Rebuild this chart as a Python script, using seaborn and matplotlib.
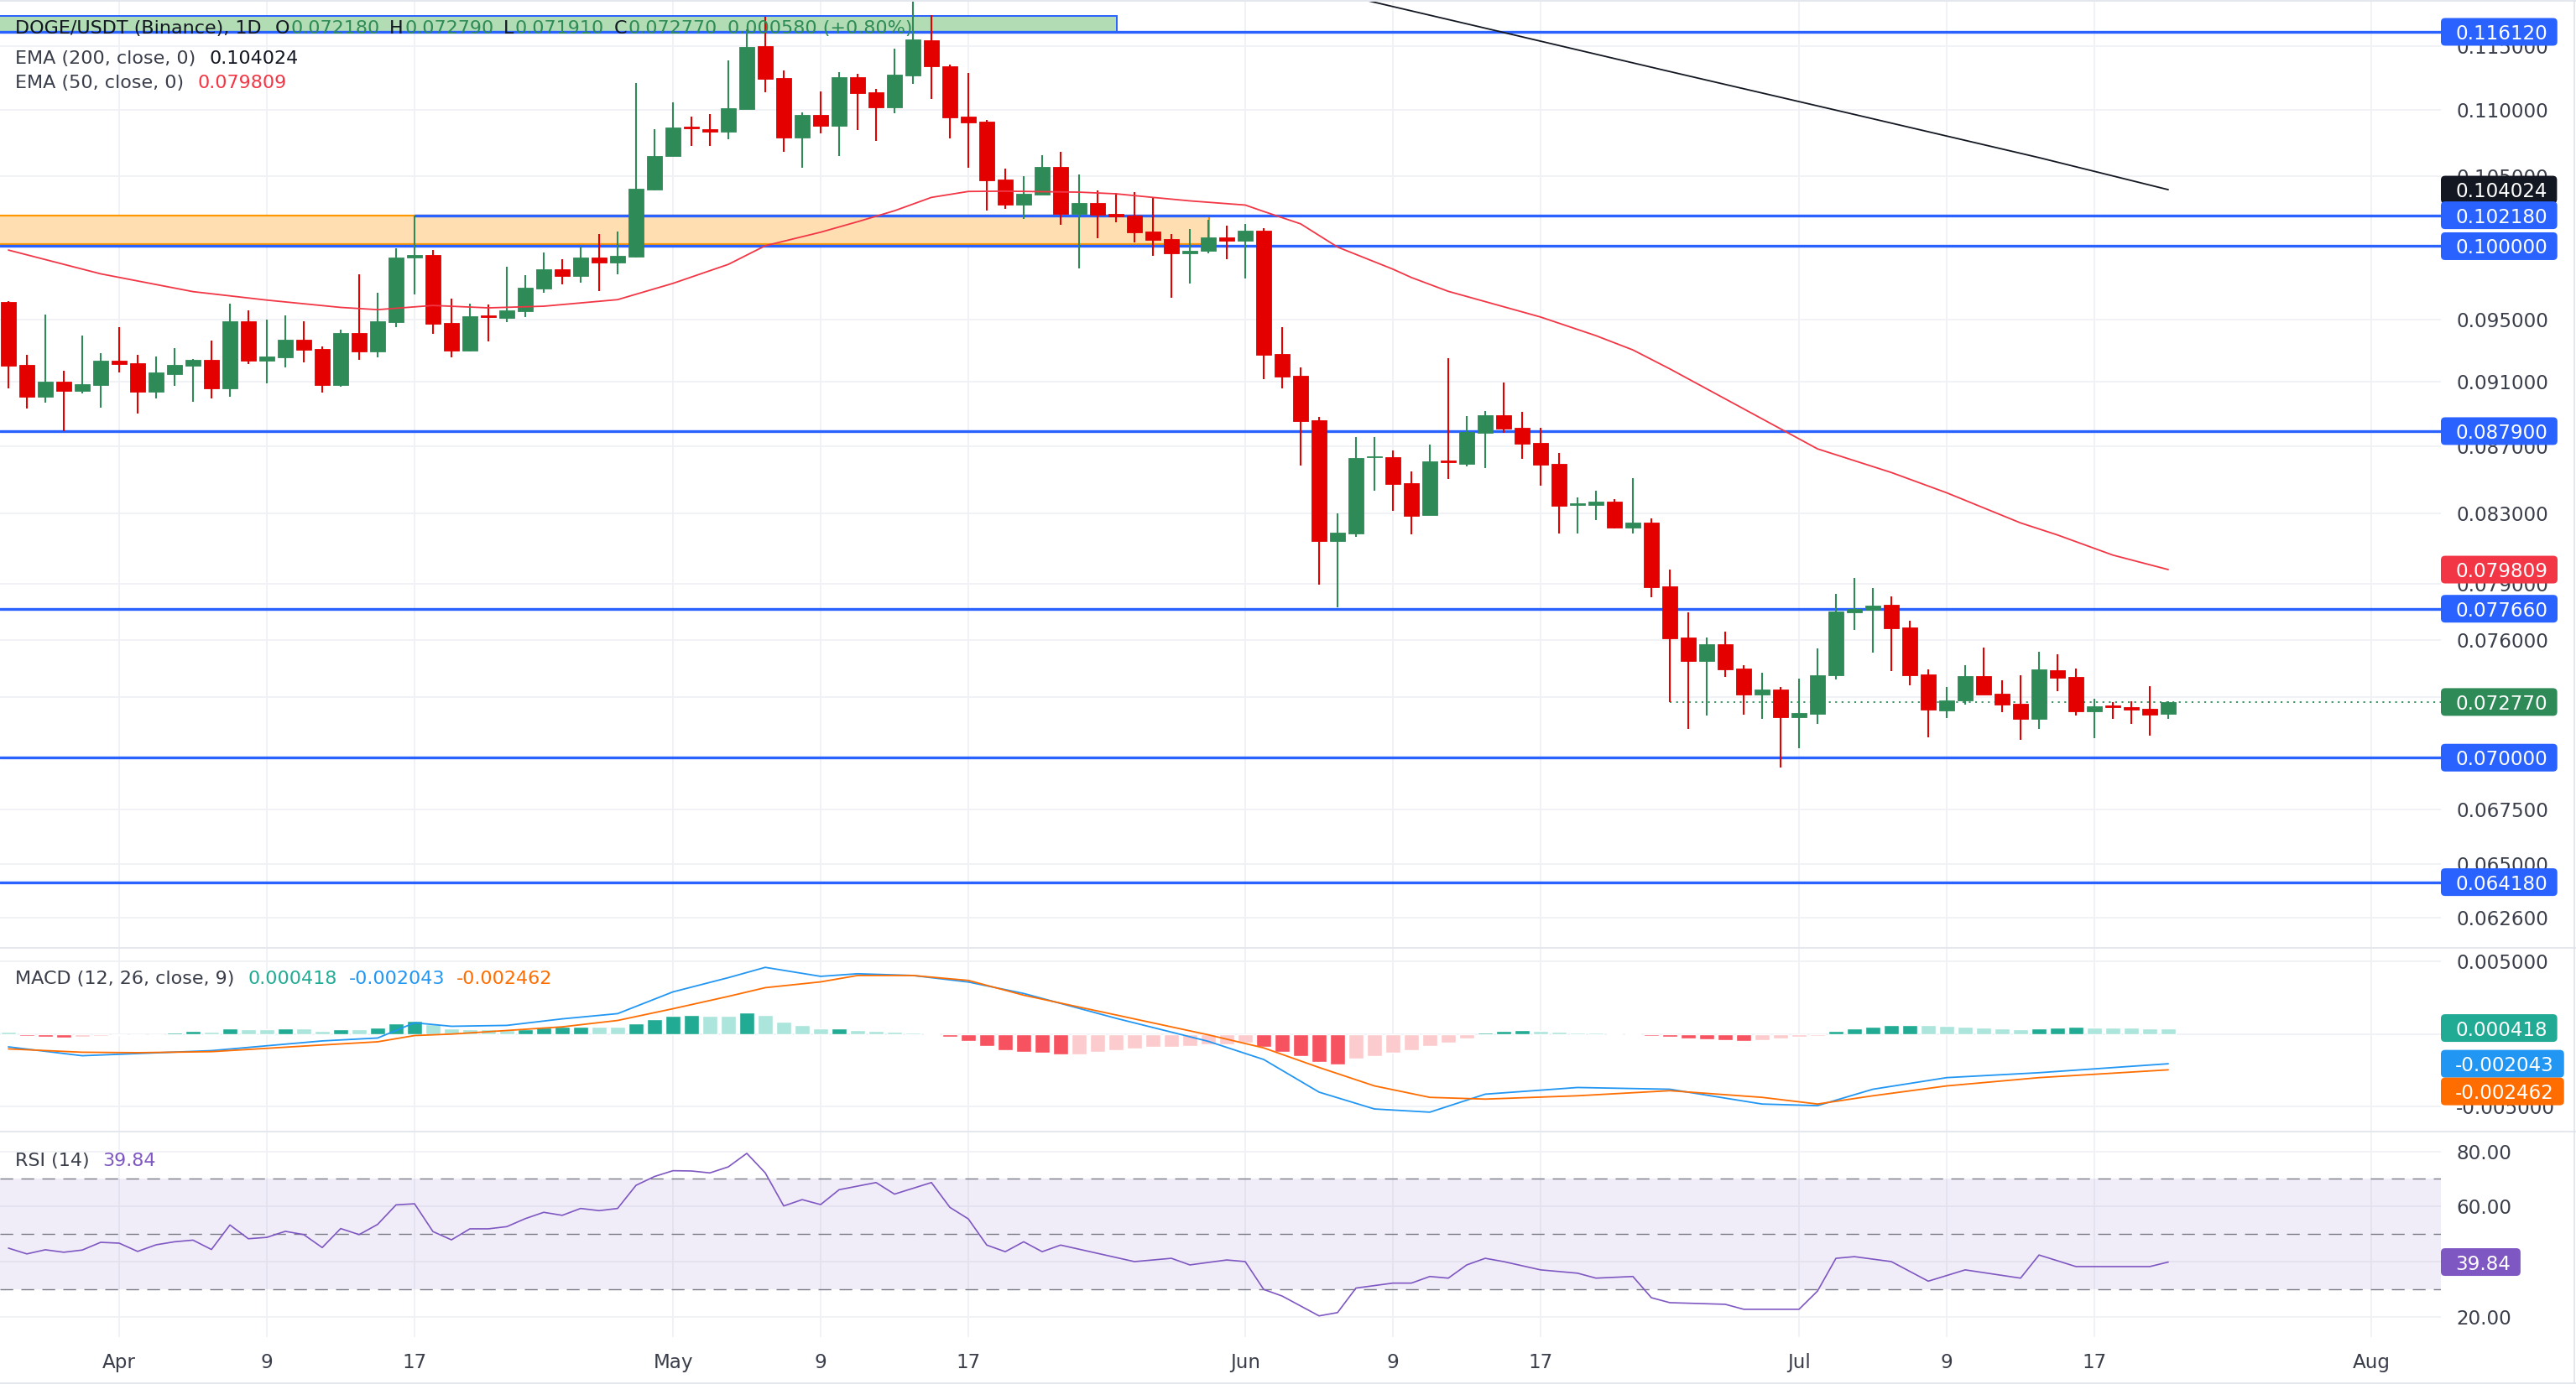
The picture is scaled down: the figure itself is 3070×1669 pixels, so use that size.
import numpy as np
import pandas as pd
import matplotlib
matplotlib.use("Agg")
import matplotlib.pyplot as plt
import matplotlib.dates as mdates
import seaborn as sns
from matplotlib.patches import Rectangle, FancyBboxPatch
from matplotlib.transforms import IdentityTransform
from matplotlib.lines import Line2D
from matplotlib.ticker import FixedLocator, NullLocator, FuncFormatter

# ---------------- data ----------------
start_date = "2023-03-26"
open_ = [0.09618, 0.09205, 0.09005, 0.09098, 0.09041, 0.09078, 0.09232, 0.09216, 0.09036, 0.09147,
         0.09201, 0.09237, 0.09057, 0.09490, 0.09234, 0.09255, 0.09368, 0.09308, 0.09078, 0.09412,
         0.09294, 0.09486, 0.09919, 0.09938, 0.09479, 0.09299, 0.09531, 0.09514, 0.09558, 0.09710,
         0.09841, 0.09796, 0.09921, 0.09888, 0.09929, 0.10404, 0.10646, 0.10866, 0.10853, 0.10830,
         0.11002, 0.11494, 0.11244, 0.10786, 0.10956, 0.10875, 0.11251, 0.11133, 0.11015, 0.11267,
         0.11547, 0.11339, 0.10943, 0.10907, 0.10476, 0.10294, 0.10368, 0.10567, 0.10226, 0.10305,
         0.10226, 0.10215, 0.10103, 0.10049, 0.09952, 0.09969, 0.10061, 0.10039, 0.10108, 0.09276,
         0.09135, 0.08856, 0.08143, 0.08186, 0.08630, 0.08632, 0.08477, 0.08291, 0.08611, 0.08593,
         0.08781, 0.08887, 0.08810, 0.08718, 0.08591, 0.08350, 0.08350, 0.08368, 0.08220, 0.08247,
         0.07888, 0.07612, 0.07486, 0.07577, 0.07449, 0.07317, 0.07342, 0.07201, 0.07218, 0.07412,
         0.07748, 0.07762, 0.07788, 0.07665, 0.07419, 0.07235, 0.07286, 0.07410, 0.07320, 0.07268,
         0.07193, 0.07441, 0.07406, 0.07231, 0.07259, 0.07251, 0.07242, 0.07218]
high = [0.09624, 0.09270, 0.09535, 0.09167, 0.09395, 0.09281, 0.09451, 0.09270, 0.09259, 0.09314,
        0.09243, 0.09362, 0.09607, 0.09562, 0.09501, 0.09529, 0.09490, 0.09324, 0.09434, 0.09806,
        0.09680, 0.09984, 0.10213, 0.09973, 0.09641, 0.09607, 0.09601, 0.09858, 0.09800, 0.09956,
        0.09910, 0.09996, 0.10085, 0.10103, 0.11204, 0.10847, 0.11057, 0.10943, 0.10968, 0.11386,
        0.11635, 0.11736, 0.11303, 0.10975, 0.11140, 0.11289, 0.11278, 0.11159, 0.11480, 0.11870,
        0.11748, 0.11352, 0.11285, 0.10918, 0.10555, 0.10500, 0.10656, 0.10682, 0.10512, 0.10396,
        0.10378, 0.10384, 0.10348, 0.10085, 0.10120, 0.10185, 0.10144, 0.10156, 0.10126, 0.09451,
        0.09189, 0.08877, 0.08300, 0.08754, 0.08754, 0.08672, 0.08546, 0.08708, 0.09249, 0.08882,
        0.08914, 0.09092, 0.08908, 0.08810, 0.08657, 0.08393, 0.08432, 0.08383, 0.08507, 0.08271,
        0.07981, 0.07747, 0.07612, 0.07643, 0.07467, 0.07427, 0.07354, 0.07397, 0.07555, 0.07847,
        0.07934, 0.07878, 0.07833, 0.07701, 0.07445, 0.07354, 0.07467, 0.07559, 0.07389, 0.07415,
        0.07537, 0.07524, 0.07449, 0.07294, 0.07277, 0.07281, 0.07359, 0.07279]
low = [0.09057, 0.08931, 0.08968, 0.08790, 0.09026, 0.08936, 0.09158, 0.08899, 0.08994, 0.09073,
       0.08973, 0.08994, 0.09005, 0.09212, 0.09089, 0.09190, 0.09223, 0.09031, 0.09067, 0.09240,
       0.09255, 0.09453, 0.09670, 0.09408, 0.09255, 0.09294, 0.09357, 0.09486, 0.09519, 0.09682,
       0.09739, 0.09750, 0.09693, 0.09808, 0.09923, 0.10398, 0.10646, 0.10722, 0.10722, 0.10773,
       0.11002, 0.11135, 0.10680, 0.10561, 0.10817, 0.10646, 0.10843, 0.10760, 0.10970, 0.11199,
       0.11078, 0.10779, 0.10563, 0.10252, 0.10264, 0.10193, 0.10368, 0.10151, 0.09848, 0.10057,
       0.10169, 0.10027, 0.09934, 0.09648, 0.09745, 0.09952, 0.09911, 0.09779, 0.09115, 0.09057,
       0.08583, 0.07898, 0.07774, 0.08167, 0.08434, 0.08316, 0.08181, 0.08291, 0.08503, 0.08578,
       0.08568, 0.08781, 0.08623, 0.08464, 0.08186, 0.08186, 0.08263, 0.08215, 0.08186, 0.07830,
       0.07278, 0.07143, 0.07210, 0.07407, 0.07214, 0.07193, 0.06950, 0.07048, 0.07168, 0.07394,
       0.07653, 0.07530, 0.07437, 0.07360, 0.07102, 0.07197, 0.07265, 0.07317, 0.07227, 0.07089,
       0.07143, 0.07334, 0.07210, 0.07097, 0.07193, 0.07168, 0.07110, 0.07191]
close = [0.09200, 0.09005, 0.09098, 0.09041, 0.09084, 0.09232, 0.09212, 0.09036, 0.09157, 0.09205,
         0.09237, 0.09057, 0.09490, 0.09234, 0.09259, 0.09368, 0.09304, 0.09078, 0.09412, 0.09294,
         0.09490, 0.09921, 0.09938, 0.09475, 0.09299, 0.09523, 0.09519, 0.09562, 0.09714, 0.09841,
         0.09796, 0.09921, 0.09888, 0.09933, 0.10409, 0.10650, 0.10860, 0.10858, 0.10830, 0.11013,
         0.11487, 0.11239, 0.10786, 0.10956, 0.10875, 0.11249, 0.11129, 0.11015, 0.11271, 0.11554,
         0.11334, 0.10938, 0.10901, 0.10471, 0.10294, 0.10372, 0.10567, 0.10226, 0.10305, 0.10222,
         0.10211, 0.10098, 0.10045, 0.09952, 0.09967, 0.10061, 0.10039, 0.10108, 0.09272, 0.09131,
         0.08852, 0.08143, 0.08189, 0.08626, 0.08637, 0.08472, 0.08287, 0.08606, 0.08601, 0.08784,
         0.08887, 0.08806, 0.08715, 0.08588, 0.08345, 0.08359, 0.08368, 0.08220, 0.08247, 0.07884,
         0.07609, 0.07486, 0.07577, 0.07446, 0.07317, 0.07342, 0.07201, 0.07221, 0.07415, 0.07751,
         0.07765, 0.07783, 0.07662, 0.07412, 0.07239, 0.07285, 0.07410, 0.07317, 0.07265, 0.07193,
         0.07445, 0.07402, 0.07231, 0.07255, 0.07252, 0.07239, 0.07214, 0.07277]

ema50_day = [0, 5, 10, 14, 18, 20, 23, 26, 29, 33, 36, 39, 41, 44, 46, 48, 50, 52, 54, 58, 60,
             62, 64, 67, 68, 70, 72, 75, 76, 78, 83, 86, 88, 90, 93, 98, 102, 105, 109, 111, 114, 117]
ema50_val = [0.09973, 0.09809, 0.09688, 0.09631, 0.09582, 0.09567, 0.09595, 0.09579, 0.09590,
             0.09634, 0.09744, 0.09874, 0.10003, 0.10098, 0.10172, 0.10250, 0.10346, 0.10389,
             0.10391, 0.10384, 0.10372, 0.10346, 0.10321, 0.10291, 0.10245, 0.10157, 0.09994,
             0.09841, 0.09784, 0.09690, 0.09518, 0.09395, 0.09302, 0.09180, 0.08990, 0.08682,
             0.08540, 0.08420, 0.08245, 0.08176, 0.08062, 0.07981]
ema200_day = [73, 80, 90, 100, 110, 117]
ema200_val = [0.11890, 0.11642, 0.11295, 0.10962, 0.10637, 0.10402]

macd_day = [0, 4, 7, 11, 17, 20, 22, 24, 27, 30, 33, 36, 39, 41, 44, 46, 49, 52, 55, 60, 65, 68,
            71, 74, 77, 80, 85, 90, 95, 98, 101, 105, 110, 117]
macd_val = [-0.00088, -0.00149, -0.00134, -0.00114, -0.00047, -0.00027, 0.00078, 0.00054, 0.00060,
            0.00105, 0.00141, 0.00291, 0.00389, 0.00460, 0.00398, 0.00416, 0.00404, 0.00359,
            0.00280, 0.00109, -0.00050, -0.00175, -0.00400, -0.00516, -0.00538, -0.00414,
            -0.00368, -0.00380, -0.00482, -0.00493, -0.00380, -0.00300, -0.00266, -0.002043]
signal_val = [-0.00102, -0.00125, -0.00128, -0.00121, -0.00075, -0.00053, -0.00010, 0.00000,
              0.00025, 0.00050, 0.00094, 0.00175, 0.00260, 0.00320, 0.00360, 0.00404, 0.00404,
              0.00370, 0.00268, 0.00132, -0.00005, -0.00095, -0.00230, -0.00357, -0.00436,
              -0.00448, -0.00425, -0.00390, -0.00436, -0.00482, -0.00425, -0.00357, -0.00300,
              -0.002462]
hist = [0.00014, -0.00012, -0.00016, -0.00022, -0.00020, -0.00012, -0.00006, -0.00008, -0.00004,
        0.00010, 0.00020, 0.00016, 0.00039, 0.00035, 0.00034, 0.00039, 0.00037, 0.00022, 0.00035,
        0.00034, 0.00047, 0.00073, 0.00091, 0.00071, 0.00041, 0.00033, 0.00031, 0.00030, 0.00035,
        0.00047, 0.00048, 0.00051, 0.00050, 0.00049, 0.00075, 0.00103, 0.00126, 0.00132, 0.00127,
        0.00126, 0.00150, 0.00132, 0.00085, 0.00063, 0.00037, 0.00038, 0.00030, 0.00022, 0.00015,
        0.00008, 0.00003, -0.00020, -0.00050, -0.00080, -0.00110, -0.00120, -0.00130, -0.00140,
        -0.00138, -0.00120, -0.00110, -0.00100, -0.00090, -0.00088, -0.00080, -0.00070, -0.00068,
        -0.00060, -0.00090, -0.00120, -0.00150, -0.00190, -0.00210, -0.00170, -0.00150, -0.00130,
        -0.00110, -0.00080, -0.00060, -0.00030, 0.00010, 0.00020, 0.00025, 0.00020, 0.00015,
        0.00010, 0.00008, 0.00005, 0.00002, -0.00010, -0.00020, -0.00030, -0.00035, -0.00040,
        -0.00045, -0.00040, -0.00030, -0.00020, -0.00010, 0.00020, 0.00040, 0.00050, 0.00060,
        0.00062, 0.00060, 0.00055, 0.00050, 0.00045, 0.00040, 0.00035, 0.00040, 0.00045, 0.00048,
        0.00046, 0.00044, 0.00043, 0.00042, 0.000418]

rsi_day = [0, 1, 2, 3, 4, 5, 6, 7, 8, 9, 10, 11, 12, 13, 14, 15, 16, 17, 18, 19, 20, 21, 22, 23,
           24, 25, 26, 27, 28, 29, 30, 31, 32, 33, 34, 35, 36, 37, 38, 39, 40, 41, 42, 43, 44, 45,
           47, 48, 50, 51, 52, 53, 54, 55, 56, 57, 59, 61, 63, 64, 66, 67, 68, 69, 71, 72, 73, 75,
           76, 77, 78, 79, 80, 81, 83, 85, 86, 88, 89, 90, 93, 94, 97, 98, 99, 100, 102, 104, 106,
           109, 110, 112, 116, 117]
rsi_val = [44.9, 42.8, 44.3, 43.4, 44.2, 47.0, 46.7, 43.7, 46.1, 47.2, 47.8, 44.4, 53.3, 48.3,
           48.8, 51.0, 49.8, 45.1, 52.0, 49.8, 53.5, 60.6, 61.0, 50.9, 47.9, 51.9, 51.9, 52.7,
           55.6, 57.9, 56.8, 59.3, 58.5, 59.3, 67.7, 70.9, 73.0, 72.9, 72.2, 74.4, 79.3, 72.2,
           60.2, 62.5, 60.7, 66.1, 68.7, 64.5, 68.7, 59.7, 55.5, 46.0, 43.6, 47.2, 43.6, 46.0,
           43.0, 40.0, 41.2, 38.8, 40.6, 40.0, 29.9, 27.5, 20.3, 21.5, 30.4, 32.2, 32.2, 34.6,
           34.0, 38.8, 41.2, 40.0, 37.0, 35.8, 34.0, 34.6, 26.9, 25.1, 24.5, 22.7, 22.7, 29.3,
           41.2, 41.8, 40.0, 32.9, 37.0, 34.0, 42.4, 38.2, 38.2, 39.84]

levels = [0.11612, 0.10218, 0.10000, 0.08790, 0.07766, 0.07000, 0.06418]
level_10218_from_day = 22
zone_low, zone_high, zone_end_day = 0.10015, 0.10218, 65.05
rect_low, rect_high, rect_end_day = 0.11612, 0.11740, 60.05
price_line_from_day = 90

price_ticks = [0.115, 0.110, 0.105, 0.100, 0.095, 0.091, 0.087, 0.083, 0.079, 0.076, 0.073,
               0.070, 0.0675, 0.065, 0.0626]
macd_ticks = [0.005, 0.0, -0.005]
rsi_ticks = [80, 60, 40, 20]
x_tick_dates = ["2023-04-01", "2023-04-09", "2023-04-17", "2023-05-01", "2023-05-09",
                "2023-05-17", "2023-06-01", "2023-06-09", "2023-06-17", "2023-07-01",
                "2023-07-09", "2023-07-17", "2023-08-01"]
x_tick_labels = ["Apr", "9", "17", "May", "9", "17", "Jun", "9", "17", "Jul", "9", "17", "Aug"]

header_vals = {"O": "0.072180", "H": "0.072790", "L": "0.071910", "C": "0.072770",
               "chg": "0.000580 (+0.80%)"}
ema200_last, ema50_last = "0.104024", "0.079809"
macd_last, signal_last, hist_last = "-0.002043", "-0.002462", "0.000418"
rsi_last = "39.84"

# ---------------- style ----------------
GREEN = "#2E8B57"
RED = "#E50000"
BLUE = "#2962FF"
GRID = "#F0F1F4"
SEP = "#E0E3EB"
TXT = "#3A3E4A"
FS = 16.6
FSH = 16.0

sns.set_theme(style="white")
plt.rcParams["font.family"] = ["DejaVu Sans"]

W, H = 3070, 1669
DPI = 100
fig = plt.figure(figsize=(W / DPI, H / DPI), dpi=DPI, facecolor="white")

def axrect(x0, y0, x1, y1):
    return [x0 / W, 1 - y1 / H, (x1 - x0) / W, (y1 - y0) / H]

PLOT_R = 2909
ax = fig.add_axes(axrect(0, 2, PLOT_R, 1129))
axm = fig.add_axes(axrect(0, 1131, PLOT_R, 1348), sharex=ax)
axr = fig.add_axes(axrect(0, 1350, PLOT_R, 1594), sharex=ax)

t0 = pd.Timestamp(start_date)
dates = pd.date_range(t0, periods=len(close), freq="D")
day = lambda d: t0 + pd.Timedelta(days=float(d))
xl = (mdates.date2num(day(-0.4545)), mdates.date2num(day(131.77)))

for a in (ax, axm, axr):
    a.set_facecolor("white")
    for s in a.spines.values():
        s.set_visible(False)
    a.grid(True, color=GRID, lw=1.3)
    a.set_axisbelow(True)
    a.yaxis.tick_right()
    a.tick_params(axis="both", which="both", length=0, labelsize=FS, labelcolor=TXT)
    a.tick_params(axis="y", pad=13)

# ---------- main price pane ----------
o, h, l, c = map(np.array, (open_, high, low, close))
up = c >= o
col = np.where(up, GREEN, RED)
ax.add_patch(Rectangle((mdates.date2num(day(-5)), zone_low),
                       mdates.date2num(day(zone_end_day)) - mdates.date2num(day(-5)),
                       zone_high - zone_low, fc="#FFDFB2", ec="#FF9800", lw=1.6, zorder=1))
ax.add_patch(Rectangle((mdates.date2num(day(-5)), rect_low),
                       mdates.date2num(day(rect_end_day)) - mdates.date2num(day(-5)),
                       rect_high - rect_low, fc="#B2DDB4", ec=BLUE, lw=1.4, zorder=1))
for lv in levels:
    if lv == 0.10218:
        ax.hlines(lv, mdates.date2num(dates[level_10218_from_day]), xl[1] + 5, color=BLUE, lw=2.4, zorder=1.5)
    else:
        ax.axhline(lv, color=BLUE, lw=2.4, zorder=1.5)
ax.hlines(c[-1], mdates.date2num(dates[price_line_from_day]), xl[1] + 5, color=GREEN, lw=1.3,
          linestyles=(0, (1.2, 3.0)), zorder=1.6)

ax.vlines(dates, l, h, colors=col, lw=1.5, zorder=3)
ax.bar(dates, np.abs(c - o), bottom=np.minimum(o, c), width=0.82, color=col, edgecolor=col,
       linewidth=0.6, zorder=3.1)

sns.lineplot(x=[dates[i] for i in ema50_day], y=ema50_val, ax=ax, color="#F23645", lw=1.3,
             legend=False, zorder=4)
sns.lineplot(x=[dates[i] for i in ema200_day], y=ema200_val, ax=ax, color="#131722", lw=1.3,
             legend=False, zorder=4)

ax.set_yscale("log")
ax.set_ylim(0.06134, 0.11859)
ax.yaxis.set_major_locator(FixedLocator(price_ticks))
ax.yaxis.set_minor_locator(NullLocator())
ax.yaxis.set_major_formatter(FuncFormatter(lambda v, p: f"{v:.6f}"))

# ---------- MACD pane ----------
hh = np.array(hist)
prev = np.concatenate([[hh[0]], hh[:-1]])
hcol = np.where(hh >= 0, np.where(hh > prev, "#22AB94", "#ACE5DC"),
                np.where(hh < prev, "#F7525F", "#FCCBCD"))
axm.bar(dates, hh, width=0.82, color=hcol, zorder=2)
sns.lineplot(x=[dates[i] for i in macd_day], y=macd_val, ax=axm, color="#2196F3", lw=1.3,
             legend=False, zorder=3)
sns.lineplot(x=[dates[i] for i in macd_day], y=signal_val, ax=axm, color="#FF6D00", lw=1.3,
             legend=False, zorder=3)
axm.set_ylim(-0.00666, 0.005885)
axm.yaxis.set_major_locator(FixedLocator(macd_ticks))
axm.yaxis.set_major_formatter(FuncFormatter(lambda v, p: f"{v:.6f}"))

# ---------- RSI pane ----------
axr.axhspan(30, 70, color="#7E57C2", alpha=0.1, lw=0, zorder=1)
for lv in (70, 50, 30):
    axr.axhline(lv, color="#787B86", lw=1.0, linestyle=(0, (11, 7)), zorder=2)
sns.lineplot(x=[dates[i] for i in rsi_day], y=rsi_val, ax=axr, color="#7E57C2", lw=1.2,
             legend=False, zorder=3)
axr.set_ylim(12.6, 86.9)
axr.yaxis.set_major_locator(FixedLocator(rsi_ticks))
axr.yaxis.set_major_formatter(FuncFormatter(lambda v, p: f"{v:.2f}"))

# ---------- shared x ----------
axr.set_xlim(*xl)
axr.xaxis.set_major_locator(FixedLocator(mdates.date2num(pd.to_datetime(x_tick_dates))))
axr.xaxis.set_major_formatter(FuncFormatter(lambda v, p: x_tick_labels[p] if p is not None and p < len(x_tick_labels) else ""))
axr.xaxis.set_major_formatter(matplotlib.ticker.FixedFormatter(x_tick_labels))
axr.tick_params(axis="x", pad=14, labelcolor=TXT)
for a in (ax, axm):
    a.tick_params(axis="x", labelbottom=False)
for a in (ax, axm, axr):
    a.set_xlabel("")
    a.set_ylabel("")

# ---------- frame lines ----------
for y in (1, 1130, 1349, 1649):
    fig.add_artist(Line2D([0, W], [H - y, H - y], transform=IdentityTransform(), color=SEP, lw=1.2))
fig.add_artist(Line2D([3068, 3068], [H - 1, H - 1649], transform=IdentityTransform(), color=SEP, lw=1.2))

# ---------- value boxes & legends ----------
fig.canvas.draw()
R = fig.canvas.get_renderer()

def value_box(a, val, text, color, dy=0, fg="white"):
    y = a.transData.transform((xl[0], val))[1] + dy
    t = fig.text(2926, y, text, transform=IdentityTransform(), color=fg, fontsize=FS,
                 ha="left", va="center_baseline", zorder=6)
    w = t.get_window_extent(R).width
    fig.add_artist(FancyBboxPatch((2909, y - 16.5), w + 17 + 12, 33,
                                  boxstyle="round,pad=0,rounding_size=5",
                                  transform=IdentityTransform(), fc=color, ec="none", zorder=5))

value_box(ax, 0.11612, "0.116120", BLUE)
value_box(ax, float(ema200_last), ema200_last, "#131722")
value_box(ax, 0.10218, "0.102180", BLUE)
value_box(ax, 0.10000, "0.100000", BLUE)
value_box(ax, 0.08790, "0.087900", BLUE)
value_box(ax, float(ema50_last), ema50_last, "#F23645")
value_box(ax, 0.07766, "0.077660", BLUE)
value_box(ax, c[-1], header_vals["C"], GREEN)
value_box(ax, 0.07000, "0.070000", BLUE)
value_box(ax, 0.06418, "0.064180", BLUE)
value_box(axm, float(hist_last), hist_last, "#22AB94")
value_box(axm, float(macd_last), macd_last, "#2196F3")
value_box(axm, float(macd_last), signal_last, "#FF6D00", dy=-33)
value_box(axr, float(rsi_last), rsi_last, "#7E57C2")

def chain(x, ycap, parts, fs=FSH):
    yb = H - (ycap + 0.36 * fs * DPI / 72)
    for s, colr, gap in parts:
        t = fig.text(x, yb, s, transform=IdentityTransform(), color=colr, fontsize=fs,
                     ha="left", va="baseline", zorder=7)
        x += t.get_window_extent(R).width + gap
    return x

DARK = "#131722"
chain(18, 32, [("DOGE/USDT (Binance), 1D", DARK, 16),
               ("O", DARK, 1), (header_vals["O"], GREEN, 12),
               ("H", DARK, 1), (header_vals["H"], GREEN, 12),
               ("L", DARK, 1), (header_vals["L"], GREEN, 12),
               ("C", DARK, 1), (header_vals["C"], GREEN, 12),
               (header_vals["chg"], GREEN, 0)])
chain(18, 68, [("EMA (200, close, 0)", TXT, 16), (ema200_last, DARK, 0)])
chain(18, 96.5, [("EMA (50, close, 0)", TXT, 16), (ema50_last, "#F23645", 0)])
chain(18, 1165, [("MACD (12, 26, close, 9)", TXT, 16), (hist_last, "#22AB94", 14),
                 (macd_last, "#2196F3", 14), (signal_last, "#FF6D00", 0)])
chain(18, 1382, [("RSI (14)", TXT, 16), (rsi_last, "#7E57C2", 0)])

fig.savefig("out.png", dpi=DPI, facecolor="white")
